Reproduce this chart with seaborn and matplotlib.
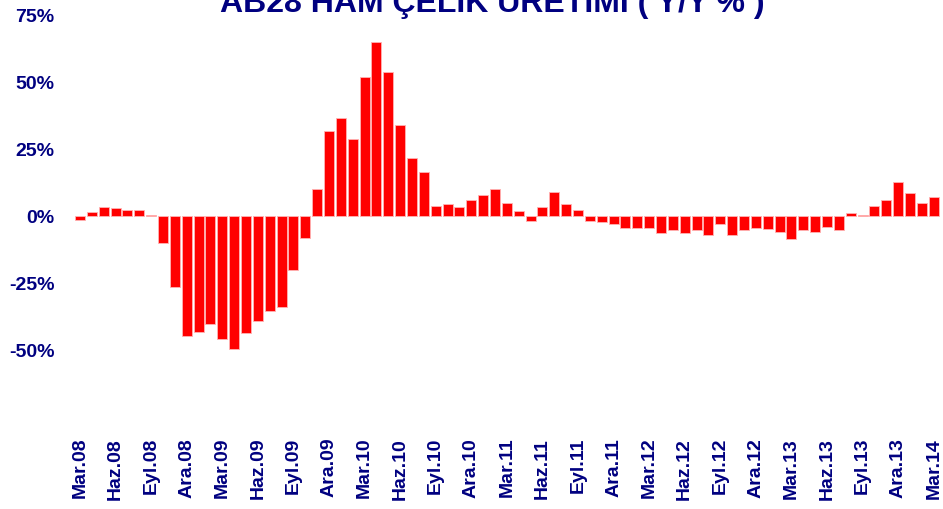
import matplotlib
matplotlib.use("Agg")
import matplotlib.pyplot as plt
import seaborn as sns
import pandas as pd

# month labels, Mar.08 .. Mar.14
month_names = ["Oca", "Şub", "Mar", "Nis", "May", "Haz", "Tem", "Ağu", "Eyl", "Eki", "Kas", "Ara"]
months = []
for year in range(8, 15):
    for m in month_names:
        months.append(f"{m}.{year:02d}")
months = months[2:2 + 73]

# yearly change of crude steel production, %
values = [
    -1.5, 1.5, 3.4, 3.1, 2.1, 2.1, 0.3, -10.0, -26.3, -44.8,
    -43.4, -40.3, -45.8, -49.6, -43.8, -39.3, -35.4, -34.0, -20.3, -8.1,
    10.1, 31.9, 36.5, 28.9, 51.9, 64.8, 53.9, 34.1, 21.6, 16.4,
    3.9, 4.4, 3.4, 5.9, 7.75, 10.1, 4.9, 2.0, -1.9, 3.4,
    8.9, 4.4, 2.25, -1.9, -2.1, -2.9, -4.6, -4.4, -4.6, -6.25,
    -5.1, -6.25, -5.1, -7.25, -2.9, -7.0, -5.25, -4.4, -5.0, -5.9,
    -8.5, -5.25, -6.0, -4.1, -5.1, 1.1, 0.5, 3.6, 6.0, 12.75,
    8.5, 4.9, 7.0,
]

df = pd.DataFrame({"Ay": months, "Degisim": values})

navy = "#000080"
sns.set_style("white")
plt.rcParams["font.family"] = ["Liberation Sans", "DejaVu Sans"]

fig = plt.figure(figsize=(9.43, 5.09), dpi=100)
ax = fig.add_axes([0.0785, 0.1807, 0.918, 0.7898])

sns.barplot(data=df, x="Ay", y="Degisim", color="#ff0000", saturation=1,
            width=0.84, edgecolor="#ffb3b3", linewidth=0.6, ax=ax)

ax.set_xlim(-0.5, len(months) - 0.5)
ax.set_ylim(-75, 75)
ax.set_yticks([-50, -25, 0, 25, 50, 75])
ax.set_yticklabels([f"{v}%" for v in [-50, -25, 0, 25, 50, 75]])
ax.set_xticks(range(0, len(months), 3))
ax.set_xticklabels(months[::3], rotation=90)

for lab in ax.get_yticklabels():
    lab.set_fontweight("bold")
    lab.set_color(navy)
    lab.set_fontsize(14)
for lab in ax.get_xticklabels():
    lab.set_fontweight("bold")
    lab.set_color(navy)
    lab.set_fontsize(14)

ax.tick_params(axis="y", length=0, pad=14)
ax.tick_params(axis="x", length=0, pad=15)
ax.set_xlabel("")
ax.set_ylabel("")
sns.despine(ax=ax, left=True, bottom=True)

fig.text(0.5217, 0.977, "AB28 HAM ÇELİK ÜRETİMİ ( Y/Y % )", ha="center", va="baseline",
         fontsize=23, fontweight="bold", color=navy)

fig.savefig("out.png", dpi=100)
